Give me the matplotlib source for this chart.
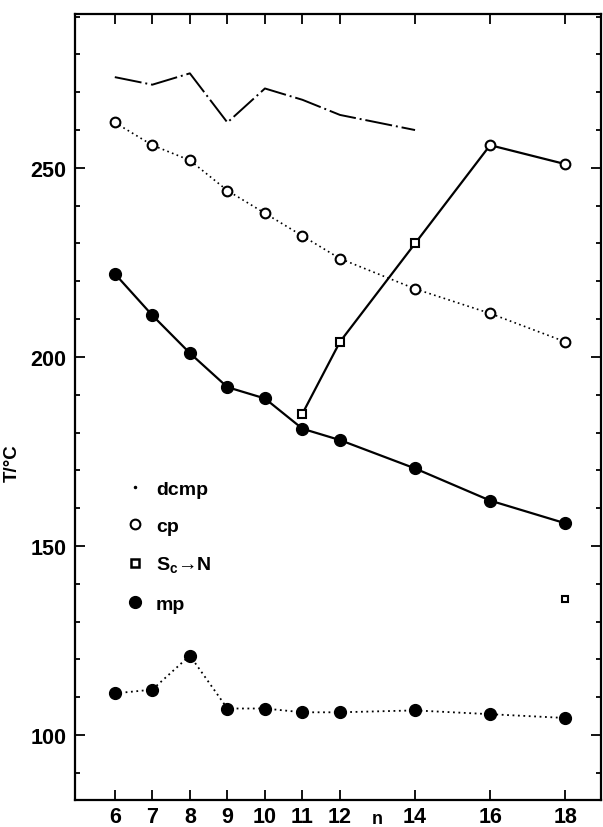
import matplotlib
matplotlib.use('Agg')
import matplotlib.pyplot as plt
from matplotlib.lines import Line2D
from matplotlib.ticker import MultipleLocator

plt.rcParams['font.family'] = ['Liberation Sans', 'DejaVu Sans']

# Chain length n and transition temperatures (deg C)
n = [6, 7, 8, 9, 10, 11, 12, 14, 16, 18]
dcmp_n = [6, 7, 8, 9, 10, 11, 12, 14]
dcmp = [274, 272, 275, 262, 271, 268, 264, 260]
cp = [262, 256, 252, 244, 238, 232, 226, 218, 211.5, 204]
mp = [222, 211, 201, 192, 189, 181, 178, 170.5, 162, 156]
mp_low = [111, 112, 121, 107, 107, 106, 106, 106.5, 105.5, 104.5]

# S_c -> N transitions (squares) continuing into the clearing points at 16 and 18
sc_n = [11, 12, 14]
sc = [185, 204, 230]
cp_high_n = [16, 18]
cp_high = [256, 251]
sc_lone_n = [18]
sc_lone = [136]

xticks = [6, 7, 8, 9, 10, 11, 12, 14, 16, 18]
yticks = [100, 150, 200, 250]

fig = plt.figure(figsize=(6.03, 8.28), dpi=100)
ax = fig.add_axes([0.1244, 0.0326, 0.872, 0.9493])

# decomposition (dash-dot)
ax.plot(dcmp_n, dcmp, color='black', lw=1.4, ls=(0, (14, 2, 1, 2)))

# clearing points (dotted, open circles)
ax.plot(n, cp, color='black', lw=1.2, ls=(0, (1, 2)), marker='o', ms=7,
        mfc='white', mec='black', mew=1.5)

# S_c -> N line, joined to the high-n clearing points
ax.plot(sc_n + cp_high_n, sc + cp_high, color='black', lw=1.6)
ax.plot(sc_n, sc, ls='none', marker='s', ms=6, mfc='white', mec='black', mew=1.5)
ax.plot(cp_high_n, cp_high, ls='none', marker='o', ms=7, mfc='white', mec='black', mew=1.5)
ax.plot(sc_lone_n, sc_lone, ls='none', marker='s', ms=5, mfc='white', mec='black', mew=1.5)

# melting points (solid, filled) and lower melting points (dotted, filled)
ax.plot(n, mp, color='black', lw=1.6, marker='o', ms=8.5)
ax.plot(n, mp_low, color='black', lw=1.3, ls=(0, (1, 2)), marker='o', ms=8.5)

ax.set_xlim(4.94, 18.95)
ax.set_ylim(82.8, 290.7)
ax.set_xticks(xticks)
ax.set_yticks(yticks)
ax.yaxis.set_minor_locator(MultipleLocator(10))
ax.tick_params(which='both', direction='in', top=True, right=True, width=1.3)
ax.tick_params(which='major', length=7, labelsize=15.5, pad=6)
ax.tick_params(which='minor', length=3.5)
ax.tick_params(axis='x', labeltop=False, pad=4)
for lab in ax.get_xticklabels() + ax.get_yticklabels():
    lab.set_fontweight('bold')
for sp in ax.spines.values():
    sp.set_linewidth(1.6)

ax.set_xlabel('n', fontsize=13, fontweight='bold')
ax.xaxis.set_label_coords(0.575, -0.013)
ax.set_ylabel('T/°C', fontsize=13.5, fontweight='bold')
ax.yaxis.set_label_coords(-0.104, 0.43)

# Legend inside the axes, no frame
handles = [
    Line2D([], [], ls='none', marker='.', ms=3, color='black'),
    Line2D([], [], ls='none', marker='o', ms=7, mfc='white', mec='black', mew=1.5),
    Line2D([], [], ls='none', marker='s', ms=6, mfc='white', mec='black', mew=1.8),
    Line2D([], [], ls='none', marker='o', ms=8.5, color='black'),
]
labels = ['dcmp', 'cp', 'S$_\\mathregular{c}$→N', 'mp']
ax.legend(handles, labels, loc='upper left', bbox_to_anchor=(0.095, 0.407),
          frameon=False, handlelength=1.0, handletextpad=0.6, labelspacing=1.02,
          borderpad=0, borderaxespad=0, prop={'size': 14, 'weight': 'bold'})

fig.savefig('out.png', dpi=100)
